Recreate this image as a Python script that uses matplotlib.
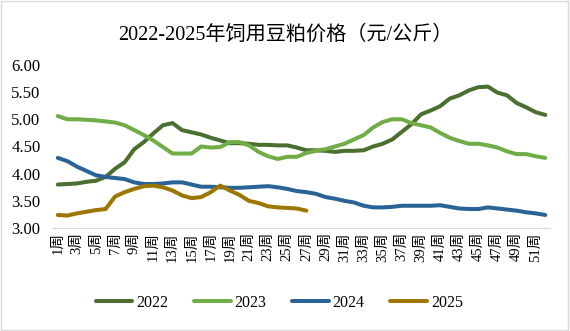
import matplotlib.pyplot as plt
from matplotlib.patches import Rectangle

# 饲用豆粕周度价格（元/公斤）
weeks = list(range(1, 53))
week_labels = [f'{w}周' if w % 2 == 1 else '' for w in weeks]

price_2022 = [3.80, 3.81, 3.82, 3.85, 3.87, 3.94, 4.09, 4.21, 4.45, 4.58,
              4.74, 4.89, 4.93, 4.80, 4.76, 4.72, 4.66, 4.61, 4.56, 4.56,
              4.55, 4.53, 4.53, 4.52, 4.52, 4.48, 4.43, 4.43, 4.42, 4.40,
              4.42, 4.42, 4.43, 4.50, 4.55, 4.63, 4.77, 4.91, 5.09, 5.16,
              5.24, 5.38, 5.44, 5.53, 5.59, 5.60, 5.49, 5.44, 5.30, 5.22,
              5.13, 5.08]
price_2023 = [5.06, 5.00, 5.00, 4.99, 4.98, 4.96, 4.94, 4.89, 4.80, 4.71,
              4.61, 4.49, 4.37, 4.37, 4.37, 4.50, 4.48, 4.49, 4.58, 4.58,
              4.52, 4.40, 4.32, 4.27, 4.31, 4.31, 4.38, 4.42, 4.45, 4.50,
              4.55, 4.63, 4.71, 4.85, 4.95, 5.00, 5.00, 4.93, 4.89, 4.85,
              4.75, 4.66, 4.60, 4.55, 4.55, 4.52, 4.48, 4.41, 4.36, 4.36,
              4.32, 4.29]
price_2024 = [4.29, 4.23, 4.13, 4.05, 3.97, 3.94, 3.92, 3.90, 3.84, 3.81,
              3.81, 3.82, 3.84, 3.84, 3.80, 3.76, 3.76, 3.75, 3.74, 3.74,
              3.75, 3.76, 3.77, 3.75, 3.72, 3.68, 3.66, 3.63, 3.57, 3.54,
              3.50, 3.47, 3.41, 3.38, 3.38, 3.39, 3.41, 3.41, 3.41, 3.41,
              3.42, 3.39, 3.36, 3.35, 3.35, 3.38, 3.36, 3.34, 3.32, 3.29,
              3.27, 3.24]
price_2025 = [3.24, 3.23, 3.27, 3.30, 3.33, 3.35, 3.58, 3.66, 3.72, 3.77,
              3.78, 3.75, 3.69, 3.60, 3.55, 3.57, 3.66, 3.78, 3.69, 3.61,
              3.50, 3.46, 3.40, 3.38, 3.37, 3.36, 3.32]

series = [('2022', price_2022, '#4B6F2F'),
          ('2023', price_2023, '#70AD47'),
          ('2024', price_2024, '#2A6396'),
          ('2025', price_2025, '#9C7700')]

plt.rcParams['font.family'] = ['Liberation Serif', 'Noto Sans CJK SC']

fig = plt.figure(figsize=(5.7, 3.31), dpi=100)
ax = fig.add_axes([0.093, 0.311, 0.872, 0.493])

for name, vals, color in series:
    ax.plot(weeks[:len(vals)], vals, color=color, lw=2.9, label=name,
            solid_capstyle='round', solid_joinstyle='round')

ax.set_ylim(3.0, 6.0)
ax.set_yticks([3.0, 3.5, 4.0, 4.5, 5.0, 5.5, 6.0])
ax.set_yticklabels([f'{v:.2f}' for v in ax.get_yticks()], fontsize=12)
ax.set_xlim(0.5, 52.5)
ax.set_xticks(weeks)
ax.set_xticklabels(week_labels, rotation=90, fontsize=10.5)
ax.tick_params(axis='both', length=0, pad=3)
ax.tick_params(axis='y', pad=9)

for s in ['top', 'right', 'left']:
    ax.spines[s].set_visible(False)
ax.spines['bottom'].set_color('#d9d9d9')

fig.text(0.5, 0.893, '2022-2025年饲用豆粕价格（元/公斤）', ha='center', va='center',
         fontsize=14.5)

fig.legend(loc='center', bbox_to_anchor=(0.49, 0.085), ncol=4, frameon=False,
           fontsize=11.5, handlelength=2.3, handletextpad=0.25, columnspacing=1.6)

# 外边框
fig.patches.append(Rectangle((0.002, 0.003), 0.995, 0.993, transform=fig.transFigure,
                             fill=False, edgecolor='#d9d9d9', lw=1))

fig.savefig('out.png', dpi=100)
